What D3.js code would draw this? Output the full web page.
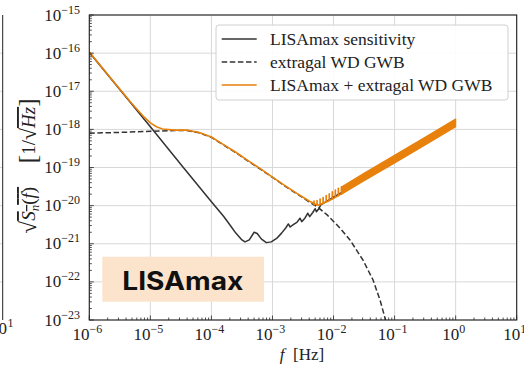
<!DOCTYPE html>
<html><head><meta charset="utf-8">
<script src="https://cdn.jsdelivr.net/npm/d3@7"></script>
<style>body{margin:0;background:#fff}svg{display:block}</style>
</head><body>
<svg id="c" width="524" height="365"></svg>
<script>
// ---------- data ----------
const xTickValues = [1e-6, 1e-5, 1e-4, 1e-3, 1e-2, 1e-1, 1e0, 1e1];
const xTickExp    = ["\u22126", "\u22125", "\u22124", "\u22123", "\u22122", "\u22121", "0", "1"];
const yTickValues = [1e-23, 1e-22, 1e-21, 1e-20, 1e-19, 1e-18, 1e-17, 1e-16, 1e-15];
const yTickExp    = ["\u221223", "\u221222", "\u221221", "\u221220", "\u221219", "\u221218", "\u221217", "\u221216", "\u221215"];

const legendLabels = ["LISAmax sensitivity", "extragal WD GWB", "LISAmax + extragal WD GWB"];

// LISAmax sensitivity (black)
const sensF = [1e-6, 1e-5, 3.47e-5, 1e-4, 1.58e-4, 2.0e-4, 2.51e-4, 3.16e-4, 3.55e-4, 4.17e-4, 5.01e-4, 5.62e-4,
  6.61e-4, 7.94e-4, 9.55e-4, 1.17e-3, 1.41e-3, 1.66e-3, 1.82e-3, 1.95e-3, 2.19e-3, 2.51e-3, 2.82e-3, 3.02e-3,
  3.39e-3, 3.8e-3, 4.07e-3, 4.57e-3, 5.01e-3, 5.25e-3, 5.75e-3, 6.17e-3, 1e-2, 1e-1, 1];
const sensS = [1.05e-16, 1.17e-18, 1.0e-19, 1.26e-20, 5.25e-21, 3.16e-21, 1.9e-21, 1.26e-21, 1.12e-21, 1.26e-21, 2.0e-21, 1.86e-21,
  1.32e-21, 1.07e-21, 1.12e-21, 1.38e-21, 1.9e-21, 2.63e-21, 3.31e-21, 2.75e-21, 3.16e-21, 3.63e-21, 4.68e-21, 3.8e-21,
  4.68e-21, 6.31e-21, 5.13e-21, 6.61e-21, 8.32e-21, 6.92e-21, 8.32e-21, 1.05e-20, 1.66e-20, 1.41e-19, 1.41e-18];

// extragalactic WD background (dashed)
const wdF = [1e-6, 3.16e-6, 1e-5, 2.51e-5, 3.98e-5, 6.31e-5, 1e-4, 1.58e-4, 2.51e-4, 3.98e-4, 6.31e-4, 1e-3,
  1.58e-3, 2.51e-3, 3.98e-3, 5.62e-3, 7.94e-3, 1.26e-2, 1.86e-2, 3.04e-2, 4.44e-2, 5.78e-2, 6.98e-2, 7.76e-2];
const wdS = [7.94e-19, 8.32e-19, 8.91e-19, 9.33e-19, 9.33e-19, 8.13e-19, 6.17e-19, 3.89e-19, 2.45e-19, 1.48e-19, 9.12e-20, 5.5e-20,
  3.31e-20, 2.04e-20, 1.26e-20, 8.91e-21, 5.62e-21, 2.63e-21, 1.26e-21, 3.72e-22, 1.12e-22, 3.31e-23, 1.12e-23, 5.01e-24];

// LISAmax + extragal WD GWB (orange) - smooth part
const totF = [1e-6, 2.51e-6, 5.01e-6, 7.94e-6, 1e-5, 1.26e-5, 1.58e-5, 2.51e-5, 3.98e-5, 6.31e-5, 1e-4, 1.58e-4,
  2.51e-4, 3.98e-4, 6.31e-4, 1e-3, 1.58e-3, 2.51e-3, 3.98e-3, 5.01e-3, 5.62e-3, 6.31e-3, 7.94e-3, 1e-2, 1.26e-2, 1.41e-2];
const totS = [1.07e-16, 1.78e-17, 4.68e-18, 2.09e-18, 1.48e-18, 1.17e-18, 1.02e-18, 9.55e-19, 9.55e-19, 8.32e-19, 6.31e-19, 3.98e-19,
  2.51e-19, 1.51e-19, 9.33e-20, 5.62e-20, 3.39e-20, 2.09e-20, 1.32e-20, 1.1e-20, 1.02e-20, 1.1e-20, 1.29e-20, 1.55e-20, 1.91e-20, 2.14e-20];
// orange oscillation teeth near the minimum
const toothF    = [4.79e-3, 5.37e-3, 6.03e-3, 6.76e-3, 7.59e-3, 8.51e-3, 9.55e-3, 1.07e-2, 1.2e-2, 1.35e-2];
const toothBase = [1.05e-20, 1.02e-20, 1.07e-20, 1.15e-20, 1.26e-20, 1.38e-20, 1.51e-20, 1.66e-20, 1.82e-20, 2.0e-20];
const toothTop  = [1.32e-20, 1.35e-20, 1.48e-20, 1.62e-20, 1.82e-20, 2.04e-20, 2.29e-20, 2.57e-20, 2.82e-20, 3.09e-20];
// orange dense oscillation band (envelope)
const bandF     = [1.35e-2, 3.16e-2, 1e-1, 3.16e-1, 1];
const bandLower = [2.0e-20, 4.47e-20, 1.32e-19, 3.89e-19, 1.17e-18];
const bandUpper = [3.09e-20, 7.08e-20, 2.09e-19, 6.17e-19, 1.86e-18];

// ---------- drawing ----------
const svg = d3.select("#c");
const L = 89.3, R = 516.7, T = 15, B = 320;
const x = d3.scaleLog().domain([1e-6, 10]).range([L, R]);
const y = d3.scaleLog().domain([1e-23, 1e-15]).range([B, T]);
const serif = "'Liberation Serif', 'Times New Roman', serif";
const cBlack = "#333333", cOrange = "#e8810c", cGrid = "#d8d8d8";

svg.append("defs").append("clipPath").attr("id", "clip")
  .append("rect").attr("x", L).attr("y", T).attr("width", R - L).attr("height", B - T);

// left neighbouring panel fragment
const frag = svg.append("g");
frag.selectAll("line.g").data(yTickValues.slice(1, -1)).join("line")
  .attr("x1", 0).attr("x2", 3).attr("y1", d => y(d)).attr("y2", d => y(d))
  .attr("stroke", cGrid);
frag.append("line").attr("x1", 2.7).attr("x2", 2.7).attr("y1", T).attr("y2", B).attr("stroke", "#222").attr("stroke-width", 1);
frag.append("text").attr("x", 7).attr("y", 334).attr("text-anchor", "end")
  .attr("font-family", serif).attr("font-size", 17).attr("fill", "#222").text("10");
frag.append("text").attr("x", 7.5).attr("y", 327).attr("font-family", serif).attr("font-size", 12).attr("fill", "#222").text("1");

// grid
const grid = svg.append("g");
grid.selectAll("line.vx").data(xTickValues).join("line")
  .attr("x1", d => x(d)).attr("x2", d => x(d)).attr("y1", T).attr("y2", B)
  .attr("stroke", cGrid).attr("stroke-width", 1);
grid.selectAll("line.hy").data(yTickValues).join("line")
  .attr("x1", L).attr("x2", R).attr("y1", d => y(d)).attr("y2", d => y(d))
  .attr("stroke", cGrid).attr("stroke-width", 1);

// curves
const plot = svg.append("g").attr("clip-path", "url(#clip)");
const line = d3.line().x(d => x(d[0])).y(d => y(d[1]));
const zip = (a, b) => a.map((v, i) => [v, b[i]]);

plot.append("path").datum(zip(sensF, sensS)).attr("d", line)
  .attr("fill", "none").attr("stroke", cBlack).attr("stroke-width", 1.5).attr("stroke-linejoin", "round");
plot.append("path").datum(zip(wdF, wdS)).attr("d", line)
  .attr("fill", "none").attr("stroke", cBlack).attr("stroke-width", 1.5).attr("stroke-dasharray", "5.5,2.6");
plot.append("path").datum(zip(totF, totS)).attr("d", line)
  .attr("fill", "none").attr("stroke", cOrange).attr("stroke-width", 1.6).attr("stroke-linejoin", "round");
plot.selectAll("line.tooth").data(toothF).join("line")
  .attr("x1", d => x(d)).attr("x2", d => x(d))
  .attr("y1", (d, i) => y(toothBase[i])).attr("y2", (d, i) => y(toothTop[i]))
  .attr("stroke", cOrange).attr("stroke-width", 1.7).attr("stroke-linecap", "round");
const area = d3.area().x(d => x(d[0])).y0(d => y(d[1])).y1(d => y(d[2]));
plot.append("path").datum(bandF.map((f, i) => [f, bandLower[i], bandUpper[i]])).attr("d", area)
  .attr("fill", cOrange).attr("stroke", cOrange).attr("stroke-width", 1.2).attr("stroke-linejoin", "round");

// frame
svg.append("rect").attr("x", L).attr("y", T).attr("width", R - L).attr("height", B - T)
  .attr("fill", "none").attr("stroke", "#222").attr("stroke-width", 1.1);

// ticks (inward)
const ax = svg.append("g").attr("stroke", "#222").attr("stroke-width", 0.8);
const minorsOf = (vals) => { const m = []; vals.slice(0, -1).forEach(v => { for (let k = 2; k <= 9; k++) m.push(v * k); }); return m; };
ax.selectAll("line.xmaj").data(xTickValues).join("line")
  .attr("x1", d => x(d)).attr("x2", d => x(d)).attr("y1", B).attr("y2", B - 4.5);
ax.selectAll("line.xmin").data(minorsOf(xTickValues)).join("line")
  .attr("x1", d => x(d)).attr("x2", d => x(d)).attr("y1", B).attr("y2", B - 2.5);
ax.selectAll("line.ymaj").data(yTickValues).join("line")
  .attr("x1", L).attr("x2", L + 4.5).attr("y1", d => y(d)).attr("y2", d => y(d));
ax.selectAll("line.ymin").data(minorsOf(yTickValues)).join("line")
  .attr("x1", L).attr("x2", L + 2.5).attr("y1", d => y(d)).attr("y2", d => y(d));

// tick labels
const xl = svg.append("g").attr("font-family", serif).attr("fill", "#222");
xTickValues.forEach((v, i) => {
  const t = xl.append("text").attr("x", x(v) - 2).attr("y", 340).attr("text-anchor", "middle").attr("font-size", 17);
  t.append("tspan").text("10");
  t.append("tspan").attr("font-size", 12).attr("dy", -7).text(xTickExp[i]);
});
yTickValues.forEach((v, i) => {
  const t = xl.append("text").attr("x", 80).attr("y", y(v) + 5.5).attr("text-anchor", "end").attr("font-size", 17);
  t.append("tspan").text("10");
  t.append("tspan").attr("font-size", 12).attr("dy", -7).text(yTickExp[i]);
});

// axis titles
const xt = xl.append("text").attr("x", 302).attr("y", 360).attr("text-anchor", "middle").attr("font-size", 17);
xt.append("tspan").attr("font-style", "italic").text("f");
xt.append("tspan").text("\u2002[Hz]");

const yt = xl.append("text").attr("transform", "translate(35,166) rotate(-90)").attr("text-anchor", "middle").attr("font-size", 19);
yt.append("tspan").attr("font-size", 23).attr("dy", 1).text("\u221A");
yt.append("tspan").attr("dy", -1).attr("style", "text-decoration: overline").attr("font-style", "italic").text("S");
yt.append("tspan").attr("style", "text-decoration: overline").attr("font-size", 13).attr("dy", 4).attr("font-style", "italic").text("n");
yt.append("tspan").attr("style", "text-decoration: overline").attr("dy", -4).text("(");
yt.append("tspan").attr("style", "text-decoration: overline").attr("font-style", "italic").text("f");
yt.append("tspan").attr("style", "text-decoration: overline").text(")");
yt.append("tspan").text("\u2003 ");
yt.append("tspan").attr("font-size", 25).attr("dy", 1).text("[");
yt.append("tspan").attr("dy", -1).text("1/");
yt.append("tspan").attr("font-size", 22).attr("dy", 1).text("\u221A");
yt.append("tspan").attr("dy", -1).attr("style", "text-decoration: overline").attr("font-style", "italic").text("Hz");
yt.append("tspan").attr("font-size", 25).attr("dy", 1).text("]");

// legend
const lg = svg.append("g");
lg.append("rect").attr("x", 216).attr("y", 25).attr("width", 292).attr("height", 75).attr("rx", 3)
  .attr("fill", "#fff").attr("fill-opacity", 0.9).attr("stroke", "#d0d0d0").attr("stroke-width", 1);
const legStyles = [
  { c: cBlack, dash: null },
  { c: cBlack, dash: "5.5,2.6" },
  { c: cOrange, dash: null }
];
const legRows = [39, 62, 85];
legendLabels.forEach((lab, i) => {
  lg.append("line").attr("x1", 221.7).attr("x2", 256.7).attr("y1", legRows[i]).attr("y2", legRows[i])
    .attr("stroke", legStyles[i].c).attr("stroke-width", 1.5).attr("stroke-dasharray", legStyles[i].dash);
  lg.append("text").attr("x", 270).attr("y", legRows[i] + 5.5).attr("font-family", serif).attr("font-size", 17.5)
    .attr("fill", "#222").text(lab);
});

// LISAmax tag
svg.append("rect").attr("x", 102.3).attr("y", 256.7).attr("width", 161.7).attr("height", 45).attr("fill", "#fce4cc");
svg.append("text").attr("x", 122.3).attr("y", 289.5).attr("font-family", "Inter, 'Noto Sans', sans-serif")
  .attr("font-weight", 700).attr("font-size", 25).attr("textLength", 121).attr("lengthAdjust", "spacingAndGlyphs")
  .attr("fill", "#111").text("LISAmax");
</script>
</body></html>
